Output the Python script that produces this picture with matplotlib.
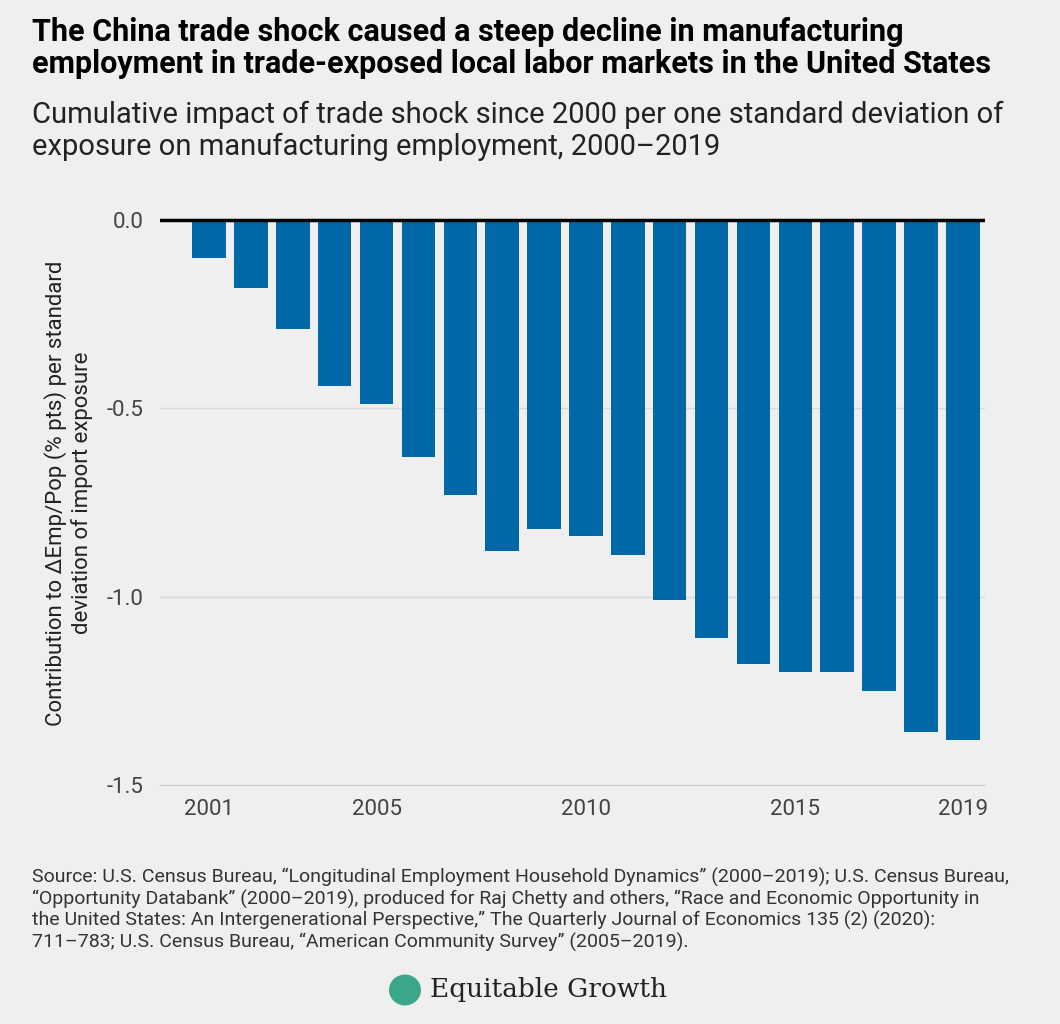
import matplotlib
matplotlib.use("Agg")
import matplotlib.pyplot as plt
from matplotlib.patches import Circle

years = list(range(2001, 2020))
values = [-0.10, -0.18, -0.29, -0.44, -0.49, -0.63, -0.73, -0.88, -0.82, -0.84,
          -0.89, -1.01, -1.11, -1.18, -1.20, -1.20, -1.25, -1.36, -1.38]
xticks = [2001, 2005, 2010, 2015, 2019]
yticks = [0.0, -0.5, -1.0, -1.5]

bg = "#efefef"
plt.rcParams["font.family"] = "Roboto"
fig = plt.figure(figsize=(10.6, 10.24), dpi=100, facecolor=bg)
ax = fig.add_axes([160/1060, 1-785/1024, 825/1060, (785-201)/1024], facecolor=bg)
ax.bar(years, values, width=0.8, color="#0068a7", zorder=3)
ax.set_xlim(1999.83, 2019.53)
ax.set_ylim(-1.5, 0.05)
ax.set_yticks(yticks)
ax.set_yticklabels([f"{v:.1f}" for v in yticks])
ax.set_xticks(xticks)
for v in yticks[1:]:
    ax.axhline(v, color="#d8d8d8", lw=1, zorder=1)
ax.axhline(0, color="black", lw=2.5, zorder=4)
for s in ["top", "right", "left"]:
    ax.spines[s].set_visible(False)
ax.spines["bottom"].set_color("#cccccc")
ax.tick_params(axis="y", length=0, labelsize=16, labelcolor="#444444", pad=12)
ax.tick_params(axis="x", length=0, labelsize=16, labelcolor="#444444", pad=10)
ax.set_ylabel("Contribution to ΔEmp/Pop (% pts) per standard\ndeviation of import exposure",
              fontsize=16, color="#222222", labelpad=10)

fig.text(32/1060, 1-48/1024, "The China trade shock caused a steep decline in manufacturing\n"
         "employment in trade-exposed local labor markets in the United States",
         fontsize=22, fontweight="bold", va="center", ha="left", linespacing=1.1)
fig.text(32/1060, 1-131/1024, "Cumulative impact of trade shock since 2000 per one standard deviation of\n"
         "exposure on manufacturing employment, 2000–2019",
         fontsize=21, va="center", ha="left", color="#222222", linespacing=1.2)
fig.text(32/1060, 1-910/1024,
         "Source: U.S. Census Bureau, “Longitudinal Employment Household Dynamics” (2000–2019); U.S. Census Bureau,\n"
         "“Opportunity Databank” (2000–2019), produced for Raj Chetty and others, “Race and Economic Opportunity in\n"
         "the United States: An Intergenerational Perspective,” The Quarterly Journal of Economics 135 (2) (2020):\n"
         "711–783; U.S. Census Bureau, “American Community Survey” (2005–2019).",
         fontsize=14, va="center", ha="left", color="#333333", linespacing=1.15)
fig.patches.append(Circle((405/1060, 1-990/1024), 16/1060, transform=fig.transFigure,
                          facecolor="#3aa68a", edgecolor="none"))
fig.text(430/1060, 1-990/1024, "Equitable Growth", fontsize=19, family="DejaVu Serif",
         va="center", ha="left", color="#222222")
fig.savefig("out.png", dpi=100, facecolor=bg)
